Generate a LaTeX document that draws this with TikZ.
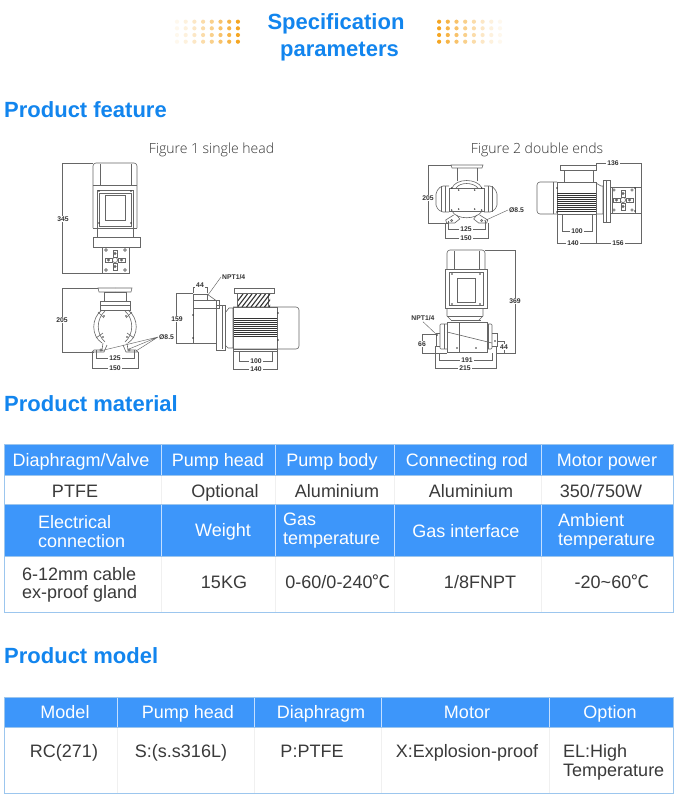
\documentclass[tikz,border=0pt]{standalone}
\usepackage{fontspec}
\setmainfont{Liberation Sans}
\newfontfamily\capfont{Open Sans Light}[Scale=1]
\newfontfamily\cjkfont{Noto Sans CJK SC}
\definecolor{titleblue}{HTML}{1285EE}
\definecolor{headblue}{HTML}{3D96FA}
\definecolor{gridblue}{HTML}{9CC6EE}
\definecolor{bodytxt}{HTML}{3A3A3A}
\definecolor{dotor}{HTML}{F5A623}
\definecolor{ink}{HTML}{666666}
\definecolor{darkink}{HTML}{333333}
\newcommand{\celsius}{{\cjkfont ℃}}
\newcommand{\bolt}[2]{\fill[darkink] (#1,#2) circle (0.8);}
\newcommand{\crossplate}[2]{%
  \draw[part] (#1,#2) circle (2.6);
  \fill[ink] (#1,#2-6.5) circle (1.6) (#1,#2+6.5) circle (1.6) (#1-6.5,#2) circle (1.6) (#1+6.5,#2) circle (1.6);
  \draw[part] (#1-10,#2-2) rectangle (#1-3,#2+2) (#1+3,#2-2) rectangle (#1+10,#2+2) (#1-2,#2-10) rectangle (#1+2,#2-3) (#1-2,#2+3) rectangle (#1+2,#2+10);
}
\tikzset{
  x=1pt,y=-1pt,
  part/.style={draw=ink,line width=0.6pt},
  dimline/.style={draw=ink,line width=0.45pt},
  dimt/.style={font=\bfseries\fontsize{6.8}{7}\selectfont,text=darkink,fill=white,inner sep=1pt},
  bigtitle/.style={font=\bfseries\fontsize{22}{27}\selectfont,text=titleblue,align=center,inner sep=0pt},
  sect/.style={font=\bfseries\fontsize{22}{26}\selectfont,text=titleblue,anchor=west,inner sep=0pt},
  figcap/.style={font=\capfont\fontsize{14}{16}\selectfont,text=darkink,inner sep=0pt},
  hd/.style={font=\fontsize{18}{19}\selectfont,text=white,inner sep=0pt,text height=14pt,text depth=2pt},
  hdl/.style={font=\fontsize{18}{19}\selectfont,text=white,inner sep=0pt,align=left},
  bd/.style={font=\fontsize{18}{18.5}\selectfont,text=bodytxt,inner sep=0pt,text height=14pt,text depth=2pt},
  bdl/.style={font=\fontsize{18}{18.5}\selectfont,text=bodytxt,inner sep=0pt,align=left},
  gridline/.style={draw=gridblue,line width=0.9pt},
  vsep/.style={draw=white!70!headblue,line width=0.8pt},
  faintsep/.style={draw=gray!12,line width=0.6pt},
}
\begin{document}
\begin{tikzpicture}
\useasboundingbox (0,0) rectangle (681,801);
\fill[white] (0,0) rectangle (681,801);

% ---- title
\node[bigtitle] (title) at (336,37) {Specification\\\hspace*{7pt}parameters};
\foreach \r/\yy in {0/21.7,1/28.3,2/35,3/41.7}{
  \foreach \c in {0,...,7}{
    \pgfmathsetmacro{\op}{0.08+0.92*(\c/7)^1.3}
    \fill[dotor,opacity=\op] (177+8.7*\c,\yy) circle (2.1);
    \fill[dotor,opacity=\op] (500-8.7*\c,\yy) circle (2.1);
  }
}
\node[sect] (s1) at (4,110) {Product feature};
\node[sect] (s2) at (4,404) {Product material};
\node[sect] (s3) at (4,656) {Product model};
\node[figcap] (f1) at (211.5,150) {Figure 1 single head};
\node[figcap] (f2) at (537,150) {Figure 2 double ends};

% ---- Figure 1, top view
\draw[part,rounded corners=3pt] (93,228) -- (93,163) -- (137,163) -- (137,228);
\draw[part,rounded corners=2pt] (100,185) -- (100,163.5) (131,185) -- (131,163.5);
\draw[part] (93,185) -- (137,185);
\draw[part] (97,190) rectangle (133,228);
\draw[part] (99,193) rectangle (131,226);
\draw[part] (105,195) rectangle (125,220);
\foreach \a/\b in {99/191,131/191,99/223,131/223}{\bolt{\a}{\b}}
\draw[part] (97,228) -- (97,237) (133,228) -- (133,237);
\draw[part] (93,228) -- (137,228);
\draw[part] (93,237) rectangle (140,247);
\draw[part] (102,247) rectangle (129,273);
\crossplate{115}{260}
\foreach \a/\b in {106/250,125/250,106/270,125/270}{\draw[part] (\a,\b) circle (1.4);}
\draw[dimline] (93,163) -- (62,163) -- (62,273) -- (102,273);
\node[dimt] (d345) at (63,219) {345};

% ---- Figure 1, front view
\foreach \s in {-1,1}{
 \begin{scope}[shift={(115,0)},xscale=\s]
  \draw[part] (0,288) -- (17,288) -- (16,292) -- (0,292);
  \draw[part] (0,292) -- (11,292) -- (11,301) -- (0,301);
  \draw[part] (0,301) -- (15,301) -- (15,310) -- (0,310);
  \draw[part] (0,305) -- (15,305);
  \draw[part] (13,310) .. controls (24,318) and (24,336) .. (13,343);
  \draw[part] (10,311) .. controls (19,319) and (19,334) .. (10,342);
  \draw[part] (17,312) -- (11,318) (19,338) -- (12,333);
  \draw[part] (12,343) -- (13,350) -- (21,350) -- (23,352) -- (11,352) -- (8,345);
  \bolt{11}{316} \bolt{12}{337}
  \draw[part] (14,350) circle (1.2);
 \end{scope}
}
\draw[dimline] (98,288) -- (62,288) -- (62,352) -- (94,352);
\node[dimt] (d205) at (62,320) {205};
\draw[dimline] (96,350) -- (96,358) -- (134,358) -- (134,350);
\node[dimt] (d125) at (115,358) {125};
\draw[dimline] (92,352) -- (92,368) -- (138,368) -- (138,352);
\node[dimt] (d150) at (115,368) {150};
\node[dimt,anchor=west] (dd1) at (158,337) {Ø8.5};
\draw[dimline] (dd1.west) -- (100,351) (dd1.west) -- (129,349) (dd1.west) -- (136,351);

% ---- Figure 1, side view
\draw[part] (193,300) rectangle (216,343);
\draw[part] (193,300.5) rectangle (219,308);
\draw[part] (193,294) rectangle (207,300.5);
\draw[part] (207,294) -- (216,300.5);
\draw[part] (216,305) rectangle (225,350);
\draw[part] (222,306) -- (222,349);
\draw[part] (225,313) -- (229,308) -- (233,308) -- (233,348) -- (228,348) -- (225,345);
\draw[part,rounded corners=3pt] (233,307) -- (299,307) -- (299,349) -- (233,349);
\draw[part] (233,307) rectangle (277,349);
\draw[part] (233,349) rectangle (277,351);
\foreach \i in {0,...,9}{\draw[draw=darkink,line width=0.65pt] (234,318.5+2*\i) -- (277,318.5+2*\i);}
\draw[part] (234,288) rectangle (274,293);
\draw[part] (237,293) rectangle (268,307);
\begin{scope}
 \clip (238,294) rectangle (270,307);
 \foreach \i in {0,...,9}{\draw[draw=darkink,line width=1.1pt] (233+4.5*\i,307) -- (243+4.5*\i,294);}
\end{scope}
\bolt{278}{313} \bolt{278}{340}
\bolt{193}{315} \bolt{193}{338}
\draw[dimline] (193,293) -- (176,293) -- (176,343) -- (193,343);
\node[dimt] (d159) at (177,319) {159};
\draw[dimline] (193,293) -- (193,287) -- (207,287) -- (207,293);
\node[dimt] (d44) at (200,285) {44};
\node[dimt,anchor=west] (npt1) at (221,277) {NPT1/4};
\draw[dimline] (npt1.west) -- (208,295);
\draw[dimline] (239,351) -- (239,361) -- (272,361) -- (272,351);
\node[dimt] (d100a) at (256,361) {100};
\draw[dimline] (233,351) -- (233,369) -- (277,369) -- (277,351);
\node[dimt] (d140a) at (256,369) {140};

% ---- Figure 2, front view
\draw[part] (451,165) -- (483,165) -- (482,168) -- (452,168) -- cycle;
\draw[part] (457,168) -- (457,181) (477,168) -- (477,181);
\draw[part] (452,188) .. controls (456,178) and (477,178) .. (482,188);
\draw[part] (456,188) .. controls (460,182) and (473,182) .. (478,188);
\draw[part] (449,188) rectangle (484,211);
\draw[part,rounded corners=2pt] (449,186) -- (441,186) -- (436,192) -- (436,207) -- (441,212) -- (449,212);
\draw[part,rounded corners=2pt] (484,186) -- (492,186) -- (497,192) -- (497,207) -- (492,212) -- (484,212);
\draw[part] (441,186) -- (441,212) (445,186) -- (445,212) (492,186) -- (492,212) (488,186) -- (488,212);
\draw[part] (452,211) .. controls (456,220) and (477,220) .. (482,211);
\foreach \s in {-1,1}{
 \begin{scope}[shift={(466.7,0)},xscale=\s]
  \draw[part] (10,215) -- (7,219) -- (12,223) -- (20,223) -- (21,220) -- (13,215);
  \draw[part] (15,220.5) circle (1.1);
  \bolt{8}{190} \bolt{8}{209} \bolt{15}{188} \bolt{15}{210}
 \end{scope}
}
\draw[dimline] (451,165) -- (428,165) -- (428,223) -- (448,223);
\node[dimt] (d205b) at (428,198) {205};
\draw[dimline] (448,221) -- (448,229) -- (485,229) -- (485,221);
\node[dimt] (d125b) at (466,229) {125};
\draw[dimline] (445,223) -- (445,238) -- (488,238) -- (488,223);
\node[dimt] (d150b) at (466,238) {150};
\node[dimt,anchor=west] (dd2) at (508,210) {Ø8.5};
\draw[dimline] (dd2.west) -- (484,221);

% ---- Figure 2, side view
\draw[part,rounded corners=3pt] (557,182) -- (537,182) -- (537,214) -- (557,214);
\draw[part] (557,182) rectangle (596,214);
\draw[part] (553,182) -- (553,214);
\foreach \i in {0,...,9}{\draw[draw=darkink,line width=0.65pt] (557,193+2*\i) -- (596,193+2*\i);}
\draw[part] (560,165) rectangle (596,170);
\draw[part] (564,170) rectangle (593,182);
\draw[part] (596,183) -- (601,186) -- (603,186) -- (603,214) -- (601,214) -- (596,214);
\draw[part] (603,180) rectangle (610,222);
\draw[part] (606,180) -- (606,222);
\draw[part] (610,187) rectangle (641,213);
\draw[part] (612,187) rectangle (635,213);
\crossplate{623}{200}
\foreach \a/\b in {614/190,632/190,614/210,632/210}{\draw[part] (\a,\b) circle (1.3);}
\bolt{557}{188} \bolt{557}{212} \bolt{635}{188} \bolt{635}{211}
\draw[dimline] (596,165) -- (596,163) -- (641,163) -- (641,243) -- (557,243) -- (557,214);
\draw[dimline] (596,214) -- (596,243);
\node[dimt] (d136) at (613,163) {136};
\node[dimt] (d140b) at (573,243) {140};
\node[dimt] (d156) at (618,243) {156};
\draw[dimline] (562,214) -- (562,231) -- (592,231) -- (592,214);
\node[dimt] (d100b) at (577,231) {100};

% ---- Figure 2, lower view
\draw[part,rounded corners=3pt] (447,269) -- (447,250) -- (485,250) -- (485,269);
\draw[part,rounded corners=2pt] (454,269) -- (454,250.5) (479,269) -- (479,250.5);
\draw[part] (445,269) rectangle (487,308);
\draw[part] (449,272) rectangle (483,305);
\draw[part] (457,278) rectangle (475,302);
\foreach \a/\b in {452/274,480/274,452/304,480/304}{\bolt{\a}{\b}}
\draw[part] (447,308) -- (447,316) -- (451,320) (483,308) -- (483,316) -- (479,320);
\draw[part] (447,316) -- (483,316);
\draw[part] (447,322) rectangle (487,352);
\draw[part] (451,320) -- (481,320);
\draw[part,rounded corners=1pt] (447,324) -- (440,324) -- (440,349) -- (447,349);
\draw[part,rounded corners=1pt] (487,324) -- (492,324) -- (492,349) -- (487,349);
\draw[part] (440,333) -- (436,333) -- (436,346) -- (440,346);
\draw[part] (492,333) -- (497,333) -- (497,346) -- (492,346);
\draw[part] (444,324) -- (444,349) (488,324) -- (488,349) (459,322) -- (459,352);
\draw[part] (447,332) -- (492,343);
\bolt{457}{348} \bolt{476}{348} \bolt{437}{335} \bolt{495}{341}
\draw[dimline] (485,250) -- (515,250) -- (515,353) -- (497,353);
\node[dimt] (d369) at (515,301) {369};
\node[dimt] (npt2) at (423,318) {NPT1/4};
\draw[dimline] (npt2.south) -- (437,335);
\draw[dimline] (436,334) -- (422,334) -- (422,353) -- (447,353);
\node[dimt] (d66) at (422,344) {66};
\draw[dimline] (497,341) -- (504,341) -- (504,353);
\node[dimt] (d44b) at (504,347) {44};
\draw[dimline] (439,353) -- (439,360) -- (492,360) -- (492,353);
\node[dimt] (d191) at (467,360) {191};
\draw[dimline] (435,346) -- (435,368) -- (496,368) -- (496,346);
\node[dimt] (d215) at (465,368) {215};

% ---- table 1
\fill[headblue] (4,444.5) rectangle (673,475);
\fill[headblue] (4,504) rectangle (673,556);
\foreach \xx in {161,275,394,541}{
  \draw[vsep] (\xx,444.5) -- (\xx,475) (\xx,504) -- (\xx,556);
  \draw[faintsep] (\xx,475) -- (\xx,504) (\xx,556) -- (\xx,612);
}
\draw[gridline] (4,444.5) rectangle (673,612.5);
\draw[gridline] (4,475) -- (673,475) (4,504) -- (673,504) (4,556) -- (673,556);
\node[hd] (a1) at (81,460) {Diaphragm/Valve};
\node[hd] (a2) at (218,460) {Pump head};
\node[hd] (a3) at (332,460) {Pump body};
\node[hd] (a4) at (467,460) {Connecting rod};
\node[hd] (a5) at (607,460) {Motor power};
\node[bd] (b1) at (75,491) {PTFE};
\node[bd] (b2) at (225,491) {Optional};
\node[bd] (b3) at (337,491) {Aluminium};
\node[bd] (b4) at (471,491) {Aluminium};
\node[bd] (b5) at (601,491) {350/750W};
\node[hdl,anchor=west] (c1) at (38,531.5) {Electrical\\connection};
\node[hd] (c2) at (223,530) {Weight};
\node[hdl,anchor=west] (c3) at (283,530.5) {Gas\\temperature};
\node[hd] (c4) at (466,531) {Gas interface};
\node[hdl,anchor=west] (c5) at (558,531.5) {Ambient\\temperature};
\node[bdl,anchor=west] (e1) at (22,585) {6-12mm cable\\ex-proof gland};
\node[bd] (e2) at (224,582) {15KG};
\node[bd] (e3) at (338,582) {0-60/0-240\celsius};
\node[bd] (e4) at (480,582) {1/8FNPT};
\node[bd] (e5) at (612,582) {-20\textasciitilde60\celsius};

% ---- table 2
\fill[headblue] (4,697) rectangle (673,727);
\foreach \xx in {117,254,381,549}{
  \draw[vsep] (\xx,697) -- (\xx,727);
  \draw[faintsep] (\xx,727) -- (\xx,793);
}
\draw[gridline] (4,697) rectangle (673,793);
\draw[gridline] (4,727) -- (673,727);
\node[hd] (g1) at (65,712) {Model};
\node[hd] (g2) at (188,712) {Pump head};
\node[hd] (g3) at (321,712) {Diaphragm};
\node[hd] (g4) at (467,712) {Motor};
\node[hd] (g5) at (610,712) {Option};
\node[bd] (h1) at (64,751) {RC(271)};
\node[bd] (h2) at (181,751) {S:(s.s316L)};
\node[bd] (h3) at (312,751) {P:PTFE};
\node[bd] (h4) at (467,751) {X:Explosion-proof};
\node[bdl,anchor=west] (h5) at (563,762.5) {EL:High\\Temperature};
\end{tikzpicture}
\end{document}
